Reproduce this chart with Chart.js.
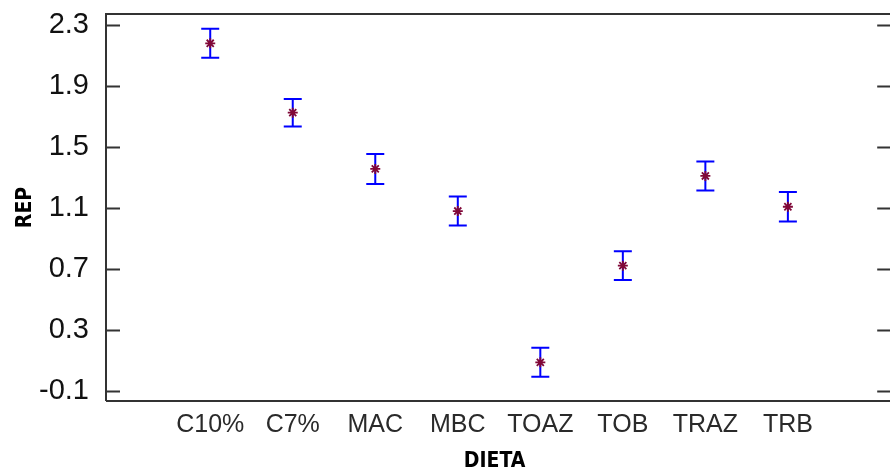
<!DOCTYPE html>
<html>
<head>
<meta charset="utf-8">
<script src="https://cdn.jsdelivr.net/npm/chart.js@4.4.0/dist/chart.umd.min.js"></script>
<style>
  html, body { margin: 0; padding: 0; background: #fff; }
  #wrap { width: 890px; height: 474px; position: relative; }
</style>
</head>
<body>
<div id="wrap"><canvas id="grafico"></canvas></div>
<script>
// medias por dieta com intervalo (+/-)
const dietas = ['C10%', 'C7%', 'MAC', 'MBC', 'TOAZ', 'TOB', 'TRAZ', 'TRB'];
const medias = [2.18, 1.725, 1.356, 1.080, 0.088, 0.722, 1.310, 1.108];
const erros = [0.095, 0.090, 0.098, 0.095, 0.095, 0.095, 0.095, 0.097];
const yTicks = [-0.1, 0.3, 0.7, 1.1, 1.5, 1.9, 2.3];

const AZUL = '#0000ff';
const VINHO = '#800838';

const barrasErro = {
  id: 'barrasErro',
  beforeDatasetsDraw(chart) {
    const { ctx, scales: { x, y } } = chart;
    ctx.save();
    ctx.strokeStyle = AZUL;
    ctx.lineWidth = 2;
    medias.forEach((m, i) => {
      const px = x.getPixelForValue(i);
      const top = y.getPixelForValue(m + erros[i]);
      const bot = y.getPixelForValue(m - erros[i]);
      ctx.beginPath();
      ctx.moveTo(px, top); ctx.lineTo(px, bot);
      ctx.moveTo(px - 9, top); ctx.lineTo(px + 9, top);
      ctx.moveTo(px - 9, bot); ctx.lineTo(px + 9, bot);
      ctx.stroke();
    });
    ctx.restore();
  },
  afterDraw(chart) {
    const { ctx, chartArea: a, scales: { y } } = chart;
    ctx.save();
    ctx.strokeStyle = '#333';
    ctx.lineWidth = 2;
    ctx.beginPath();
    ctx.moveTo(a.left, a.bottom); ctx.lineTo(a.left, a.top); ctx.lineTo(890, a.top);
    ctx.moveTo(a.left, a.bottom); ctx.lineTo(890, a.bottom);
    yTicks.forEach(t => {
      const py = Math.round(y.getPixelForValue(t)) + 0.5;
      ctx.moveTo(a.left, py); ctx.lineTo(a.left + 14, py);
      ctx.moveTo(a.right - 6, py); ctx.lineTo(890, py);
    });
    ctx.stroke();
    ctx.restore();
  }
};

new Chart(document.getElementById('grafico'), {
  type: 'scatter',
  data: {
    datasets: [{
      label: 'REP',
      data: medias.map((m, i) => ({ x: i, y: m })),
      pointStyle: 'star',
      radius: 5,
      borderColor: VINHO,
      backgroundColor: VINHO,
      borderWidth: 1.8
    }]
  },
  options: {
    responsive: true,
    maintainAspectRatio: false,
    animation: false,
    layout: { padding: { top: 14, right: 1, left: 0, bottom: 0 } },
    plugins: { legend: { display: false }, tooltip: { enabled: false } },
    scales: {
      x: {
        type: 'linear',
        min: -1.263,
        max: 8.155,
        grid: { display: false, drawTicks: false },
        border: { display: false },
        afterBuildTicks: s => { s.ticks = dietas.map((d, i) => ({ value: i })); },
        afterFit: s => { s.height = 73; s.paddingLeft = 0; s.paddingRight = 0; },
        ticks: {
          padding: 9,
          autoSkip: false,
          maxRotation: 0,
          color: '#2a2a2a',
          font: { family: 'Liberation Sans', size: 25 },
          callback: v => dietas[v]
        },
        title: {
          display: true,
          text: 'DIETA',
          color: '#000',
          padding: { top: 0, bottom: 0 },
          font: { family: "'Liberation Sans Narrow', 'DejaVu Sans Condensed', sans-serif", size: 21, weight: 'bold' }
        }
      },
      y: {
        min: -0.1656,
        max: 2.372,
        grid: { display: false, drawTicks: false },
        border: { display: false },
        afterBuildTicks: s => { s.ticks = yTicks.map(v => ({ value: v })); },
        afterFit: s => { s.width = 106; s.paddingTop = 0; s.paddingBottom = 0; },
        ticks: {
          padding: 17,
          color: '#111',
          font: { family: 'Liberation Sans', size: 29 },
          callback: v => v.toFixed(1)
        },
        title: {
          display: true,
          text: 'REP',
          color: '#000',
          padding: { top: 13, bottom: 0 },
          font: { family: "'Liberation Sans Narrow', 'DejaVu Sans Condensed', sans-serif", size: 21, weight: 'bold' }
        }
      }
    }
  },
  plugins: [barrasErro]
});
</script>
</body>
</html>
